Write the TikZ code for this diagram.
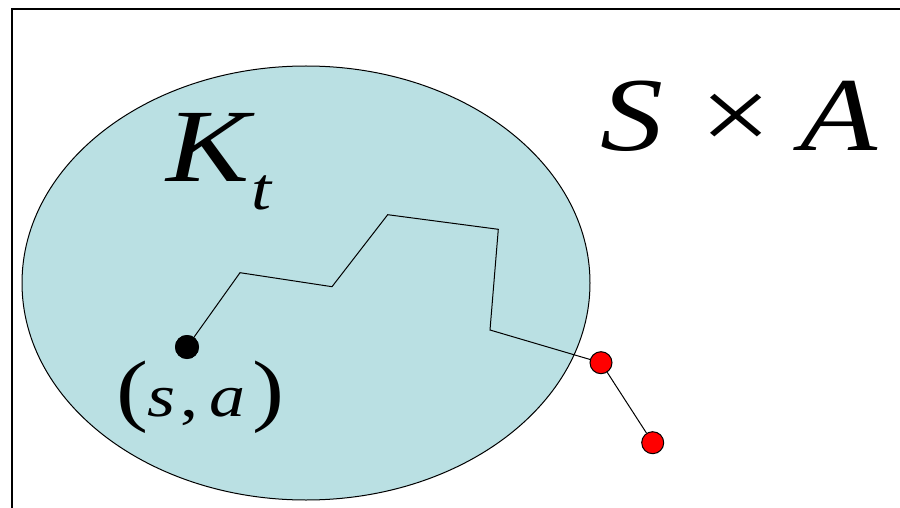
\documentclass[tikz,border=0pt]{standalone}
\usepackage{fontspec}
\usetikzlibrary{shapes.geometric}
\setmainfont{Liberation Serif}
\definecolor{setfill}{RGB}{186,224,227}
\definecolor{dotred}{RGB}{255,0,0}
\newcommand{\wide}[1]{\scalebox{1.2}[1]{#1}}
\begin{document}
\begin{tikzpicture}[x=1pt,y=-1pt,
  txt/.style={inner sep=0pt,anchor=base west},
  frameline/.style={line width=1.2pt},
  pathline/.style={line width=1pt},
  blackdot/.style={circle,fill=black,minimum size=24pt,inner sep=0pt},
  reddot/.style={circle,fill=dotred,draw=black,line width=1pt,minimum size=22pt,inner sep=0pt}]
\useasboundingbox (0,0) rectangle (900,508);
% frame
\coordinate (ftop) at (900,9);
\coordinate (fcorner) at (12,9);
\coordinate (fbot) at (12,508);
\draw[frameline] (ftop) -- (fcorner) -- (fbot);
% set K_t
\node[ellipse,draw=black,fill=setfill,line width=1pt,minimum width=568pt,minimum height=434pt,inner sep=0pt] (K) at (306,283) {};
% labels
\node[txt,font=\itshape\fontsize{104}{104}\selectfont] (Klab) at (166,182) {\wide{K}};
\node[txt,font=\itshape\fontsize{60}{60}\selectfont] (tlab) at (251,209) {\wide{t}};
\node[txt,font=\itshape\fontsize{105}{105}\selectfont] (Slab) at (600,151) {\wide{S}};
\node[txt,font=\fontsize{105}{105}\selectfont] (times) at (700,151) {\wide{×}};
\node[txt,font=\itshape\fontsize{105}{105}\selectfont] (Alab) at (800,151) {\wide{A}};
\node[txt,font=\fontsize{80}{80}\selectfont] (p1) at (116,416) {\wide{(}};
\node[txt,font=\itshape\fontsize{60}{60}\selectfont] (slab) at (147,416) {\wide{s}};
\node[txt,font=\fontsize{60}{60}\selectfont] (comma) at (180,416) {\wide{,}};
\node[txt,font=\itshape\fontsize{60}{60}\selectfont] (alab) at (209,416) {\wide{a}};
\node[txt,font=\fontsize{80}{80}\selectfont] (p2) at (252,416) {\wide{)}};
% trajectory
\node[blackdot] (start) at (187,347) {};
\coordinate (v1) at (240,272.7);
\coordinate (v2) at (332,286.7);
\coordinate (v3) at (387.7,214.7);
\coordinate (v4) at (498.3,229.3);
\coordinate (v5) at (490,330);
\node[reddot] (r1) at (601,362.7) {};
\node[reddot] (r2) at (652.7,442.7) {};
\draw[pathline] (start.center) -- (v1) -- (v2) -- (v3) -- (v4) -- (v5) -- (r1);
\draw[pathline] (r1) -- (r2);
\node[blackdot] at (start) {};
\end{tikzpicture}
\end{document}
